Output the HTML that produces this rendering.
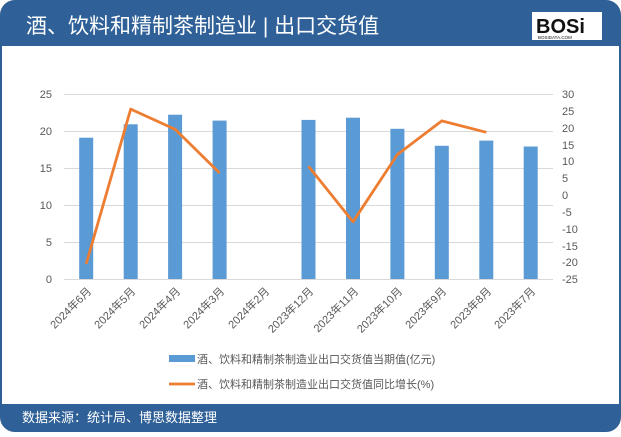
<!DOCTYPE html>
<html><head><meta charset="utf-8"><style>
html,body{margin:0;padding:0;background:#fff;}
body{width:621px;height:432px;overflow:hidden;font-family:"Liberation Sans","Noto Sans CJK SC",sans-serif;}
</style></head><body>
<svg width="621" height="432" xmlns="http://www.w3.org/2000/svg" font-family="Liberation Sans, Noto Sans CJK SC, sans-serif">
<rect x="1" y="1" width="619" height="430" rx="14" fill="#fff" stroke="#2f5f93" stroke-width="2"/>
<path d="M1,46 V15 A14,14 0 0 1 15,1 H606 A14,14 0 0 1 620,15 V46 Z" fill="#2f6198"/>
<text x="26" y="33" font-size="21" fill="#fff">酒、饮料和精制茶制造业 | 出口交货值</text>
<rect x="532" y="12" width="70" height="28" fill="#fff"/>
<text x="536" y="33" font-size="20" font-weight="bold" fill="#111">BOSi</text>
<text x="538" y="39" font-size="4.5" fill="#111">BOSIDATA.COM</text>
<path d="M1,404 H620 V418 A14,14 0 0 1 606,431 H15 A14,14 0 0 1 1,418 Z" fill="#2f6198"/>
<text x="22" y="422" font-size="13" fill="#fff">数据来源：统计局、博思数据整理</text>
<g stroke="#d9d9d9" stroke-width="1">
<line x1="64" x2="553" y1="94.5" y2="94.5"/><line x1="64" x2="553" y1="131.5" y2="131.5"/>
<line x1="64" x2="553" y1="168.5" y2="168.5"/><line x1="64" x2="553" y1="205.5" y2="205.5"/>
<line x1="64" x2="553" y1="242.5" y2="242.5"/><line x1="64" x2="553" y1="279.5" y2="279.5"/>
</g>
<g font-size="11" fill="#595959" text-anchor="end">
<text x="52" y="98">25</text><text x="52" y="135">20</text><text x="52" y="172">15</text><text x="52" y="209">10</text><text x="52" y="246">5</text><text x="52" y="283">0</text>
</g>
<g font-size="11" fill="#595959" text-anchor="start">
<text x="562" y="98">30</text><text x="562" y="115">25</text><text x="562" y="132">20</text><text x="562" y="149">15</text><text x="562" y="165">10</text><text x="562" y="182">5</text><text x="562" y="199">0</text><text x="562" y="216">-5</text><text x="562" y="233">-10</text><text x="562" y="250">-15</text><text x="562" y="266">-20</text><text x="562" y="283">-25</text>
</g>
<g fill="#5b9bd5">
<rect x="79.2" y="137.7" width="14" height="141.3"/>
<rect x="123.7" y="124.3" width="14" height="154.7"/>
<rect x="168.1" y="114.7" width="14" height="164.3"/>
<rect x="212.6" y="120.6" width="14" height="158.4"/>
<rect x="301.5" y="119.9" width="14" height="159.1"/>
<rect x="346" y="117.7" width="14" height="161.3"/>
<rect x="390.4" y="128.8" width="14" height="150.2"/>
<rect x="434.8" y="145.8" width="14" height="133.2"/>
<rect x="479.3" y="140.6" width="14" height="138.4"/>
<rect x="523.7" y="146.5" width="14" height="132.5"/>
</g>
<g fill="none" stroke="#ed7d31" stroke-width="2.8" stroke-linejoin="round">
<polyline points="86.2,263.9 130.7,109.1 175.1,129.3 219.6,173"/>
<polyline points="308.5,166.3 353,221.8 397.4,154.5 441.8,120.9 486.3,132.3"/>
</g>
<g font-size="11" fill="#595959" text-anchor="end">
<text transform="translate(92,292) rotate(-45)">2024年6月</text>
<text transform="translate(136,292) rotate(-45)">2024年5月</text>
<text transform="translate(181,292) rotate(-45)">2024年4月</text>
<text transform="translate(225,292) rotate(-45)">2024年3月</text>
<text transform="translate(270,292) rotate(-45)">2024年2月</text>
<text transform="translate(314,292) rotate(-45)">2023年12月</text>
<text transform="translate(359,292) rotate(-45)">2023年11月</text>
<text transform="translate(403,292) rotate(-45)">2023年10月</text>
<text transform="translate(447,292) rotate(-45)">2023年9月</text>
<text transform="translate(492,292) rotate(-45)">2023年8月</text>
<text transform="translate(536,292) rotate(-45)">2023年7月</text>
</g>
<rect x="169" y="355" width="26" height="7" fill="#5b9bd5"/>
<text x="197" y="363" font-size="11" fill="#595959">酒、饮料和精制茶制造业出口交货值当期值(亿元)</text>
<line x1="169" x2="195" y1="384" y2="384" stroke="#ed7d31" stroke-width="2.8"/>
<text x="197" y="388" font-size="11" fill="#595959">酒、饮料和精制茶制造业出口交货值同比增长(%)</text>
</svg>
</body></html>
